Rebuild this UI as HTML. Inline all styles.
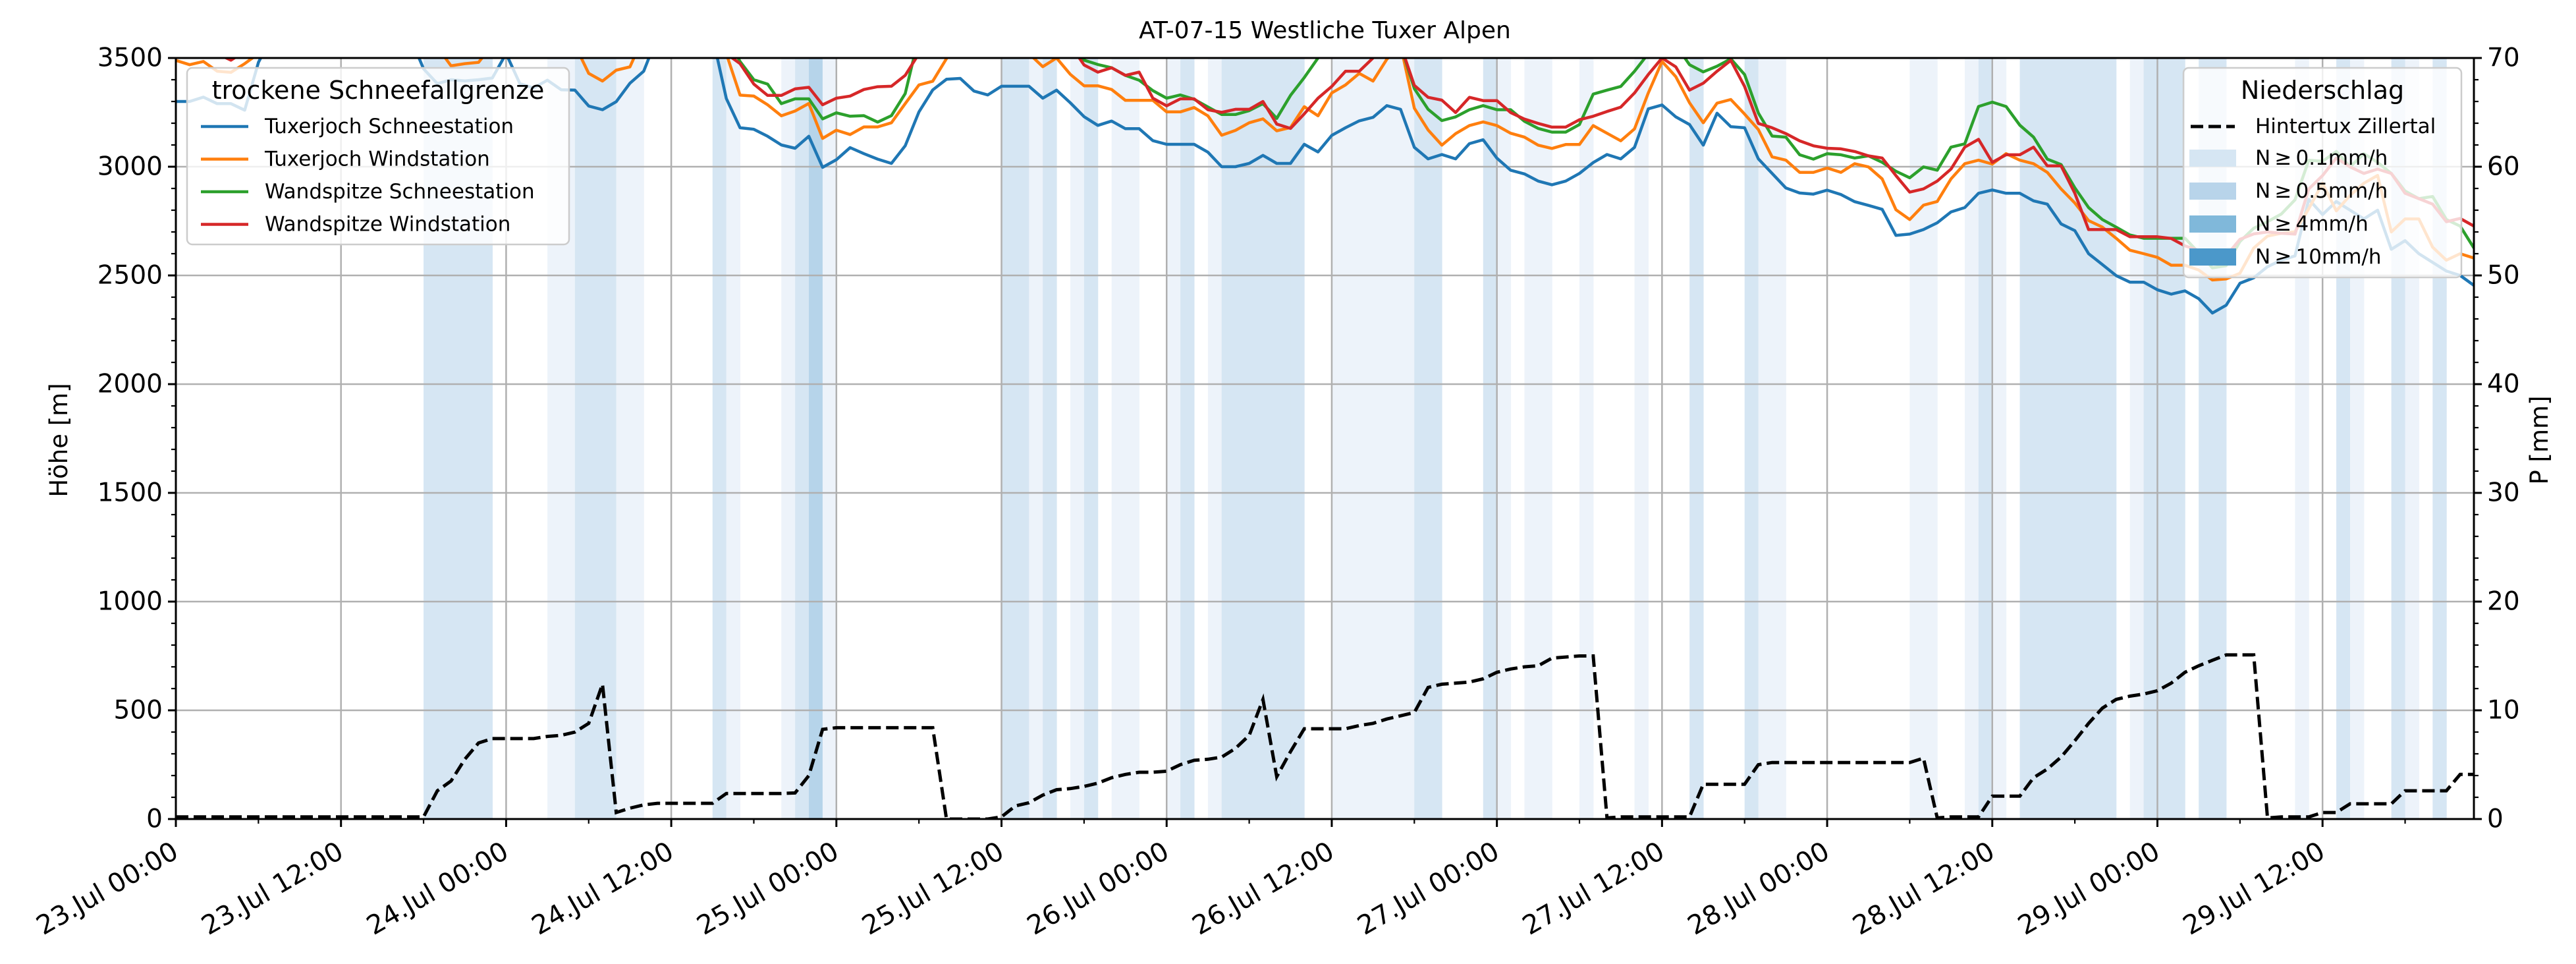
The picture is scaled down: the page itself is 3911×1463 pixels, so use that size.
<!DOCTYPE html>
<html><head><meta charset="utf-8"><title>AT-07-15 Westliche Tuxer Alpen</title>
<style>html,body{margin:0;padding:0;background:#fff}svg{display:block;font-family:"DejaVu Sans","Liberation Sans",sans-serif}</style>
</head><body>
<svg id="chart" width="3911" height="1463" viewBox="0 0 3911 1463" xmlns="http://www.w3.org/2000/svg">
<defs><clipPath id="plotclip"><rect x="267" y="88" width="3489" height="1155"/></clipPath></defs>
<rect x="0" y="0" width="3911" height="1463" fill="#fff"/>
<g id="bands" clip-path="url(#plotclip)"></g>
<g id="grid"></g>
<g id="lines" clip-path="url(#plotclip)"></g>
<g id="axes"></g>
<g id="legends"></g>
</svg>
<script>
const xTickLabels=["23.Jul 00:00","23.Jul 12:00","24.Jul 00:00","24.Jul 12:00","25.Jul 00:00","25.Jul 12:00","26.Jul 00:00","26.Jul 12:00","27.Jul 00:00","27.Jul 12:00","28.Jul 00:00","28.Jul 12:00","29.Jul 00:00","29.Jul 12:00"];
const yTicksLeft=[0,500,1000,1500,2000,2500,3000,3500];
const yTicksRight=[0,10,20,30,40,50,60,70];
const tuxSchnee=[3300,3300,3320,3290,3290,3260,3480,3600,3600,3600,
3600,3600,3600,3600,3600,3600,3600,3600,3450,3382,
3400,3395,3400,3408,3520,3382,3362,3398,3354,3352,
3279,3262,3299,3384,3439,3600,3600,3600,3600,3600,
3314,3179,3172,3140,3100,3085,3140,2997,3032,3088,
3060,3035,3015,3096,3252,3353,3402,3406,3348,3330,
3370,3370,3370,3315,3352,3294,3230,3190,3210,3175,
3175,3120,3103,3103,3103,3067,3000,3000,3015,3052,
3015,3015,3103,3068,3144,3179,3211,3227,3281,3264,
3089,3036,3056,3036,3106,3124,3039,2984,2967,2934,
2917,2934,2969,3019,3056,3036,3089,3266,3284,3229,
3194,3099,3246,3184,3179,3036,2969,2902,2879,2874,
2892,2872,2839,2822,2804,2684,2690,2711,2742,2792,
2812,2878,2893,2878,2878,2843,2828,2737,2706,2600,
2550,2499,2469,2469,2434,2414,2429,2393,2327,2363,
2464,2489,2540,2570,2590,2850,2780,2840,2800,2760,
2800,2620,2660,2600,2560,2520,2500,2454];
const tuxWind=[3489,3469,3484,3439,3434,3474,3520,3600,3600,3600,
3600,3600,3600,3600,3600,3600,3600,3600,3600,3550,
3464,3474,3480,3560,3600,3600,3600,3600,3600,3560,
3429,3394,3444,3459,3600,3600,3600,3600,3600,3600,
3520,3329,3325,3285,3234,3256,3291,3130,3168,3148,
3183,3183,3202,3290,3376,3393,3497,3600,3600,3600,
3600,3600,3520,3460,3500,3425,3372,3372,3355,3305,
3305,3305,3252,3252,3272,3234,3145,3167,3202,3220,
3165,3180,3276,3234,3339,3376,3429,3394,3494,3560,
3269,3169,3099,3152,3189,3206,3189,3154,3136,3099,
3084,3102,3102,3189,3154,3119,3174,3339,3484,3414,
3294,3202,3292,3309,3242,3171,3045,3030,2974,2974,
2994,2974,3014,2999,2944,2802,2757,2823,2840,2944,
3014,3030,3012,3060,3030,3014,2974,2898,2833,2752,
2722,2671,2616,2600,2583,2547,2547,2525,2479,2484,
2510,2626,2681,2694,2701,2807,2924,2797,2868,2924,
2960,2700,2760,2760,2630,2570,2600,2580];
const wandSchnee=[3600,3600,3600,3600,3600,3600,3600,3600,3600,3600,
3600,3600,3600,3600,3600,3600,3600,3600,3600,3600,
3600,3600,3600,3600,3600,3600,3600,3600,3600,3600,
3600,3600,3600,3600,3600,3600,3600,3600,3600,3600,
3600,3484,3400,3380,3290,3312,3312,3220,3248,3232,
3235,3205,3235,3336,3600,3600,3600,3600,3600,3600,
3600,3600,3600,3600,3600,3600,3490,3470,3455,3420,
3398,3350,3315,3330,3310,3275,3240,3240,3258,3290,
3222,3328,3410,3500,3600,3600,3600,3600,3600,3560,
3359,3264,3212,3229,3262,3281,3262,3262,3209,3176,
3159,3159,3194,3334,3352,3369,3439,3520,3600,3560,
3469,3436,3462,3496,3424,3247,3141,3136,3055,3035,
3060,3055,3040,3050,3020,2979,2949,2999,2984,3090,
3105,3277,3297,3277,3191,3136,3035,3010,2903,2812,
2757,2722,2686,2671,2671,2671,2671,2605,2535,2545,
2656,2717,2747,2782,2848,3030,3025,3070,2999,3060,
3020,2969,2888,2853,2863,2757,2727,2626];
const wandWind=[3600,3600,3600,3520,3490,3530,3600,3600,3600,3600,
3600,3600,3600,3600,3600,3600,3600,3600,3600,3600,
3600,3600,3600,3600,3600,3600,3600,3600,3600,3600,
3600,3600,3600,3600,3600,3600,3600,3600,3600,3600,
3520,3474,3380,3328,3328,3358,3365,3285,3315,3325,
3355,3368,3370,3420,3520,3600,3600,3600,3600,3600,
3600,3600,3600,3600,3600,3560,3468,3435,3455,3420,
3435,3315,3280,3312,3312,3262,3250,3264,3264,3300,
3196,3176,3243,3315,3369,3439,3439,3500,3560,3560,
3374,3319,3306,3249,3319,3304,3304,3249,3219,3199,
3182,3182,3216,3232,3254,3274,3339,3424,3500,3459,
3352,3384,3439,3489,3369,3199,3179,3152,3119,3096,
3085,3082,3070,3050,3040,2959,2883,2898,2934,2989,
3090,3126,3020,3055,3055,3090,3004,3004,2878,2711,
2711,2711,2678,2678,2678,2670,2636,2615,2590,2590,
2666,2691,2700,2694,2690,2898,2959,3040,2999,2969,
2989,2969,2878,2853,2828,2747,2762,2727];
const precipSum=[0.2,0.2,0.2,0.2,0.2,0.2,0.2,0.2,0.2,0.2,
0.2,0.2,0.2,0.2,0.2,0.2,0.2,0.2,0.2,2.6,
3.5,5.5,7.0,7.4,7.4,7.4,7.4,7.6,7.7,8.0,
8.8,12.4,0.6,1.0,1.3,1.45,1.45,1.45,1.45,1.45,
2.35,2.35,2.35,2.35,2.35,2.4,4.0,8.25,8.4,8.4,
8.4,8.4,8.4,8.4,8.4,8.4,0,0,0,0,
0.2,1.2,1.5,2.2,2.7,2.8,3.0,3.3,3.8,4.1,
4.3,4.3,4.4,5.0,5.4,5.5,5.7,6.5,7.7,11.0,
3.9,6.2,8.3,8.3,8.3,8.3,8.6,8.8,9.2,9.5,
9.8,12.1,12.4,12.5,12.6,12.9,13.5,13.8,14.0,14.1,
14.8,14.9,15.0,15.0,0.1,0.2,0.2,0.2,0.2,0.2,
0.2,3.2,3.2,3.2,3.2,5.0,5.2,5.2,5.2,5.2,
5.2,5.2,5.2,5.2,5.2,5.2,5.2,5.6,0.1,0.2,
0.2,0.2,2.1,2.1,2.1,3.8,4.6,5.7,7.2,8.8,
10.2,11.0,11.3,11.5,11.8,12.5,13.5,14.1,14.6,15.1,
15.1,15.1,0.1,0.2,0.2,0.2,0.6,0.6,1.4,1.4,
1.4,1.4,2.6,2.6,2.6,2.6,4.1,4.1];
const precipClass=[0,0,0,0,0,0,0,0,0,0,
0,0,0,0,0,0,0,0,2,2,
2,2,2,0,0,0,0,1,1,2,
2,2,1,1,0,0,0,0,0,2,
1,0,0,0,1,2,3,1,0,0,
0,0,0,0,0,0,0,0,0,0,
2,2,1,2,0,1,2,0,1,1,
0,0,1,2,0,1,2,2,2,2,
2,2,0,0,1,1,1,1,1,1,
2,2,0,0,0,2,1,0,1,1,
0,0,1,0,0,0,1,0,0,0,
2,0,0,0,2,1,1,0,0,0,
0,0,0,0,0,0,1,1,0,0,
1,2,1,0,2,2,2,2,2,2,
2,0,1,2,2,2,0,2,2,0,
0,0,0,0,1,0,0,2,1,0,
0,2,1,0,2,0,0,0];

const NS="http://www.w3.org/2000/svg";
const L=267,R=3756,T=88,B=1243,HMAX=167;
function X(h){return L+(R-L)*h/HMAX;}
function YH(v){return B-(B-T)*v/3500;}
function YP(p){return B-(B-T)*p/70;}
function mk(tag,attrs,parent){const e=document.createElementNS(NS,tag);for(const k in attrs)e.setAttribute(k,attrs[k]);parent.appendChild(e);return e;}
const bandColors=["none","#edf3fa","#d6e6f3","#b6d4ea","#4b98ca"];
const gB=document.getElementById('bands');
precipClass.forEach((c,h)=>{if(!c)return;
 const r=mk('rect',{x:X(h),y:T,width:X(h+1)-X(h)+0.5,height:B-T,fill:bandColors[c]},gB);
 
 
});
const gG=document.getElementById('grid');
for(let i=0;i<xTickLabels.length;i++){const x=X(i*12);
 const g=mk('line',{x1:x,x2:x,y1:T,y2:B,stroke:'#b0b0b0','stroke-width':2.5},gG);
 
 }
yTicksLeft.forEach(v=>{const y=YH(v);
 const g=mk('line',{x1:L,x2:R,y1:y,y2:y,stroke:'#b0b0b0','stroke-width':2.5},gG);
 
 });
const gL=document.getElementById('lines');
const series=[[tuxSchnee,'#1f77b4','tuxerjoch-schneestation-line'],[tuxWind,'#ff7f0e','tuxerjoch-windstation-line'],[wandSchnee,'#2ca02c','wandspitze-schneestation-line'],[wandWind,'#d62728','wandspitze-windstation-line']];
series.forEach(([d,c,n])=>{const pts=d.map((v,h)=>X(h).toFixed(1)+','+YH(v).toFixed(1)).join(' ');
 const p=mk('polyline',{points:pts,fill:'none',stroke:c,'stroke-width':4.5,'stroke-linejoin':'round'},gL);
 
 });
const pp=precipSum.map((v,h)=>X(h).toFixed(1)+','+YP(v).toFixed(1)).join(' ');
const pl=mk('polyline',{points:pp,fill:'none',stroke:'#000','stroke-width':5,'stroke-dasharray':'19,8'},gL);



const gA=document.getElementById('axes');
mk('rect',{x:L,y:T,width:R-L,height:B-T,fill:'none',stroke:'#000','stroke-width':3},gA);
const fs=39;
for(let i=0;i<xTickLabels.length;i++){const x=X(i*12);
 mk('line',{x1:x,x2:x,y1:B,y2:B+12,stroke:'#000','stroke-width':3},gA);
 const t=mk('text',{transform:`translate(${x-8},${B+32}) rotate(-30)`,'text-anchor':'end','dominant-baseline':'hanging','font-size':40,fill:'#000'},gA);
 t.textContent=xTickLabels[i];
 
 }
for(let h=6;h<=HMAX;h+=12){const x=X(h);mk('line',{x1:x,x2:x,y1:B,y2:B+7,stroke:'#000','stroke-width':2.2},gA);}
for(let v=0;v<=3500;v+=100){const y=YH(v);mk('line',{x1:L-(v%500?7:12),x2:L,y1:y,y2:y,stroke:'#000','stroke-width':v%500?2.2:3},gA);}
yTicksLeft.forEach(v=>{const t=mk('text',{x:L-20,y:YH(v),'text-anchor':'end','dominant-baseline':'central','font-size':fs},gA);t.textContent=v;
 
 });
for(let p=0;p<=70;p+=2){const y=YP(p);mk('line',{x1:R,x2:R+(p%10?7:12),y1:y,y2:y,stroke:'#000','stroke-width':p%10?2.2:3},gA);}
yTicksRight.forEach(p=>{const t=mk('text',{x:R+20,y:YP(p),'text-anchor':'start','dominant-baseline':'central','font-size':fs},gA);t.textContent=p;
 
 });
const yl=mk('text',{transform:'translate(102,668) rotate(-90)','text-anchor':'middle','font-size':37},gA);yl.textContent='Höhe [m]';


const yr=mk('text',{transform:'translate(3868,668) rotate(-90)','text-anchor':'middle','font-size':37},gA);yr.textContent='P [mm]';


const ti=mk('text',{x:(L+R)/2,y:58,'text-anchor':'middle','font-size':36},gA);ti.textContent='AT-07-15 Westliche Tuxer Alpen';



const gLe=document.getElementById('legends');
const l1=mk('g',{},gLe);


mk('rect',{x:284,y:103,width:580,height:268,rx:8,fill:'#fff','fill-opacity':0.8,stroke:'#cccccc','stroke-width':2.5},l1);
const t1=mk('text',{x:574,y:150,'text-anchor':'middle','font-size':38},l1);t1.textContent='trockene Schneefallgrenze';
const names1=['Tuxerjoch Schneestation','Tuxerjoch Windstation','Wandspitze Schneestation','Wandspitze Windstation'];
names1.forEach((n,i)=>{const y=192+i*49.5;
 mk('line',{x1:305,x2:377,y1:y,y2:y,stroke:series[i][1],'stroke-width':4.5},l1);
 const t=mk('text',{x:402,y:y,'dominant-baseline':'central','font-size':31},l1);t.textContent=n;
 
 });
const l2=mk('g',{},gLe);


mk('rect',{x:3315,y:103,width:422,height:318,rx:8,fill:'#fff','fill-opacity':0.8,stroke:'#cccccc','stroke-width':2.5},l2);
const t2=mk('text',{x:3526,y:150,'text-anchor':'middle','font-size':38},l2);t2.textContent='Niederschlag';
mk('line',{x1:3326,x2:3393,y1:192,y2:192,stroke:'#000','stroke-width':5,'stroke-dasharray':'19,8'},l2);
const ht=mk('text',{x:3424,y:192,'dominant-baseline':'central','font-size':31},l2);ht.textContent='Hintertux Zillertal';


const patchCols=['#d6e6f3','#b8d4ea','#80b8da','#4b98ca'];
const patchLabels=['N\u2009\u2265\u20090.1mm/h','N\u2009\u2265\u20090.5mm/h','N\u2009\u2265\u20094mm/h','N\u2009\u2265\u200910mm/h'];
patchLabels.forEach((n,i)=>{const y=227+i*50;
 mk('rect',{x:3324,y:y,width:71,height:26,fill:patchCols[i]},l2);
 const t=mk('text',{x:3424,y:y+13,'dominant-baseline':'central','font-size':31},l2);t.textContent=n;
 
 });
</script>
</body></html>
